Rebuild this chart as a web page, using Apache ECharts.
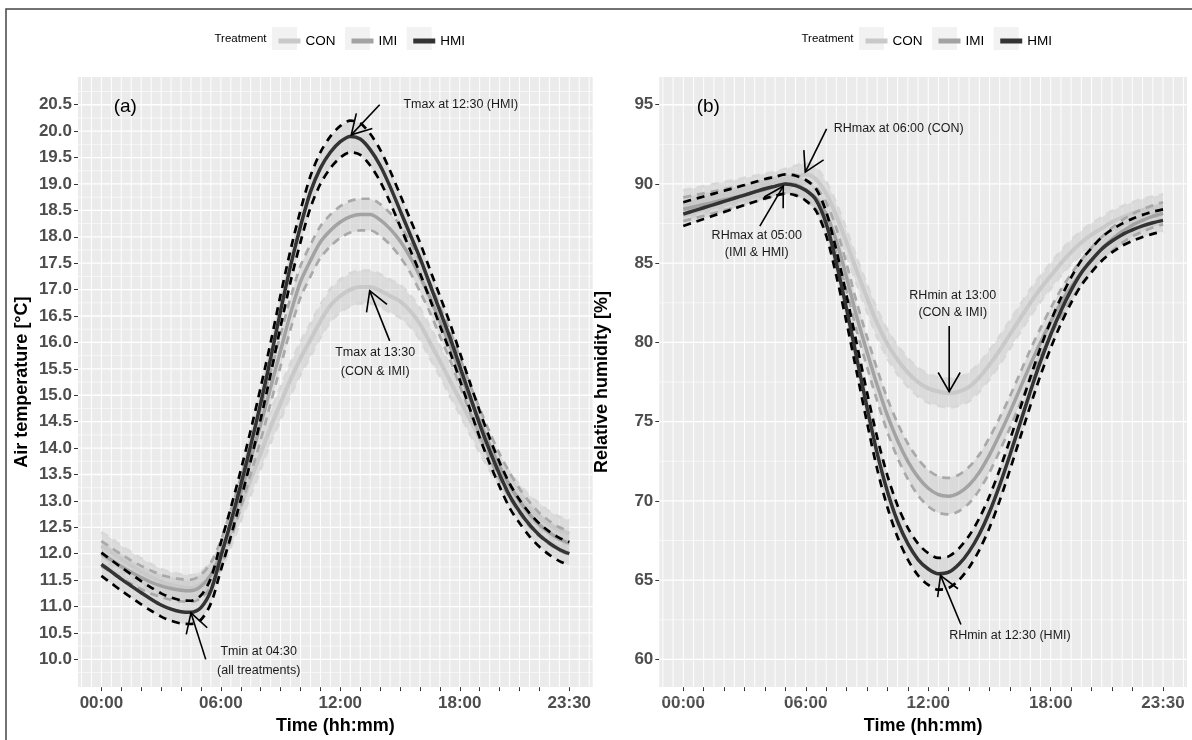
<!DOCTYPE html>
<html lang="en">
<head>
<meta charset="UTF-8">
<title>Air temperature and relative humidity by treatment</title>
<script src="https://cdn.jsdelivr.net/npm/echarts@6/dist/echarts.min.js"></script>
<style>
    html, body { margin: 0; padding: 0; background: #fff; }
    #main { width: 1192px; height: 740px; }
</style>
</head>
<body>
<div id="main"></div>
<script type="text/javascript">
// x values are half-hour slots: 0 = 00:00 ... 47 = 23:30
var treatments = ['CON', 'IMI', 'HMI'];

var xTickIdx = [0, 2, 4, 6, 8, 10, 12, 14, 16, 18, 20, 22, 24, 26, 28, 30, 32, 34, 36, 38, 40, 42, 44, 47];
var xLabelIdx = [0, 12, 24, 36, 47];
var xLabelText = ['00:00', '06:00', '12:00', '18:00', '23:30'];

var tempTicks = [10.0, 10.5, 11.0, 11.5, 12.0, 12.5, 13.0, 13.5, 14.0, 14.5, 15.0, 15.5,
    16.0, 16.5, 17.0, 17.5, 18.0, 18.5, 19.0, 19.5, 20.0, 20.5];
var rhTicks = [60, 65, 70, 75, 80, 85, 90, 95];

// (a) air temperature, mean per treatment
var tempCON = [12.15, 12.03, 11.90, 11.78, 11.66, 11.56, 11.47, 11.41, 11.37, 11.35, 11.42, 11.60, 11.95,
    12.40, 12.90, 13.40, 13.90, 14.40, 14.85, 15.30, 15.70, 16.05, 16.40, 16.70, 16.88, 17.00, 17.05, 17.05,
    16.98, 16.88, 16.78, 16.60, 16.35, 16.00, 15.65, 15.28, 14.92, 14.55, 14.18, 13.85, 13.55, 13.28, 13.05,
    12.85, 12.70, 12.55, 12.45, 12.38];
var tempIMI = [12.00, 11.88, 11.76, 11.65, 11.55, 11.46, 11.39, 11.34, 11.31, 11.30, 11.38, 11.60, 12.00,
    12.55, 13.15, 13.80, 14.45, 15.15, 15.85, 16.55, 17.15, 17.55, 17.90, 18.12, 18.28, 18.38, 18.42, 18.42,
    18.32, 18.15, 17.92, 17.62, 17.25, 16.85, 16.40, 15.95, 15.45, 14.95, 14.50, 14.05, 13.65, 13.30, 13.00,
    12.75, 12.55, 12.40, 12.28, 12.20];
var tempHMI = [11.80, 11.66, 11.52, 11.39, 11.26, 11.14, 11.03, 10.95, 10.90, 10.89, 10.98, 11.30, 11.95,
    12.60, 13.30, 14.05, 14.85, 15.70, 16.60, 17.45, 18.20, 18.85, 19.30, 19.60, 19.80, 19.90, 19.85, 19.65,
    19.35, 18.95, 18.50, 18.05, 17.60, 17.10, 16.60, 16.10, 15.55, 15.00, 14.45, 13.95, 13.50, 13.10, 12.80,
    12.55, 12.35, 12.20, 12.08, 12.00];
// half width of the confidence band
var ciTempCON = [0.26, 0.26, 0.25, 0.25, 0.25, 0.24, 0.24, 0.24, 0.24, 0.24, 0.24, 0.25, 0.26,
    0.27, 0.28, 0.29, 0.30, 0.30, 0.31, 0.31, 0.31, 0.31, 0.31, 0.31, 0.31, 0.31, 0.31, 0.31,
    0.31, 0.31, 0.31, 0.30, 0.30, 0.30, 0.29, 0.29, 0.28, 0.28, 0.27, 0.27, 0.26, 0.26, 0.26, 0.25, 0.25, 0.25, 0.25, 0.25];
var ciTempIMI = [0.24, 0.23, 0.23, 0.22, 0.22, 0.22, 0.21, 0.21, 0.21, 0.21, 0.22, 0.23, 0.25,
    0.27, 0.28, 0.29, 0.30, 0.30, 0.30, 0.30, 0.30, 0.30, 0.30, 0.30, 0.30, 0.30, 0.30, 0.30,
    0.30, 0.30, 0.30, 0.29, 0.29, 0.28, 0.28, 0.27, 0.27, 0.26, 0.25, 0.25, 0.24, 0.24, 0.23, 0.23, 0.22, 0.22, 0.22, 0.22];
var ciTempHMI = [0.22, 0.22, 0.22, 0.22, 0.22, 0.22, 0.22, 0.22, 0.22, 0.22, 0.23, 0.24, 0.26,
    0.27, 0.28, 0.29, 0.30, 0.30, 0.30, 0.30, 0.30, 0.30, 0.30, 0.30, 0.30, 0.30, 0.30, 0.30,
    0.30, 0.30, 0.30, 0.29, 0.29, 0.28, 0.28, 0.27, 0.26, 0.25, 0.25, 0.24, 0.23, 0.23, 0.22, 0.22, 0.22, 0.22, 0.22, 0.22];

// (b) relative humidity, mean per treatment
var rhCON = [88.70, 88.85, 89.00, 89.15, 89.30, 89.45, 89.60, 89.75, 89.90, 90.05, 90.25, 90.45, 90.60,
    90.30, 89.40, 88.00, 86.30, 84.50, 82.80, 81.20, 79.90, 78.90, 78.10, 77.50, 77.10, 76.90, 76.80, 76.90,
    77.20, 77.80, 78.60, 79.50, 80.50, 81.50, 82.50, 83.40, 84.20, 85.00, 85.70, 86.30, 86.80, 87.20, 87.60,
    87.90, 88.15, 88.35, 88.50, 88.65];
var rhIMI = [88.40, 88.55, 88.70, 88.85, 89.00, 89.15, 89.30, 89.50, 89.65, 89.85, 90.00, 89.95, 89.60,
    89.10, 88.10, 86.40, 84.10, 81.60, 79.40, 77.30, 75.40, 73.80, 72.50, 71.50, 70.80, 70.40, 70.30, 70.50,
    71.00, 71.80, 72.90, 74.20, 75.60, 77.10, 78.60, 80.00, 81.30, 82.50, 83.50, 84.40, 85.20, 85.90, 86.50,
    87.00, 87.40, 87.70, 87.95, 88.15];
var rhHMI = [88.10, 88.30, 88.50, 88.70, 88.90, 89.10, 89.30, 89.50, 89.70, 89.85, 90.00, 89.90, 89.60,
    89.00, 87.50, 85.00, 82.10, 79.00, 75.90, 73.00, 70.60, 68.70, 67.30, 66.30, 65.70, 65.40, 65.50, 66.00,
    66.80, 67.90, 69.30, 71.00, 72.90, 74.90, 76.90, 78.80, 80.50, 82.00, 83.30, 84.40, 85.20, 85.90, 86.40,
    86.80, 87.10, 87.35, 87.55, 87.70];
var ciRhCON = [0.90, 0.88, 0.86, 0.84, 0.82, 0.80, 0.78, 0.76, 0.74, 0.72, 0.70, 0.70, 0.70,
    0.72, 0.75, 0.78, 0.80, 0.82, 0.85, 0.88, 0.90, 0.90, 0.90, 0.90, 0.90, 0.90, 0.90, 0.90,
    0.90, 0.90, 0.90, 0.90, 0.88, 0.86, 0.84, 0.82, 0.80, 0.78, 0.76, 0.74, 0.72, 0.70, 0.70, 0.70, 0.70, 0.70, 0.70, 0.70];
var ciRhIMI = [0.75, 0.73, 0.71, 0.69, 0.67, 0.65, 0.63, 0.62, 0.61, 0.60, 0.60, 0.62, 0.65,
    0.70, 0.75, 0.80, 0.85, 0.90, 0.95, 1.00, 1.05, 1.10, 1.12, 1.15, 1.15, 1.15, 1.15, 1.15,
    1.15, 1.12, 1.10, 1.05, 1.00, 0.97, 0.94, 0.90, 0.87, 0.84, 0.82, 0.80, 0.78, 0.76, 0.74, 0.72, 0.70, 0.70, 0.70, 0.70];
var ciRhHMI = [0.75, 0.73, 0.71, 0.69, 0.67, 0.65, 0.63, 0.62, 0.61, 0.60, 0.60, 0.62, 0.65,
    0.70, 0.75, 0.80, 0.85, 0.90, 0.95, 1.00, 1.00, 1.00, 1.00, 1.00, 1.00, 1.00, 1.00, 1.00,
    1.00, 1.00, 1.00, 0.98, 0.95, 0.92, 0.90, 0.87, 0.85, 0.82, 0.80, 0.78, 0.76, 0.74, 0.72, 0.70, 0.70, 0.70, 0.70, 0.70];

// annotations: [slot, value] for text, [tailSlot, tailValue, tipSlot, tipValue] for arrows
var notesA = ['(a)', 'Tmax at 12:30 (HMI)', 'Tmax at 13:30', '(CON & IMI)', 'Tmin at 04:30', '(all treatments)'];
var notesAPos = [[2.4, 20.47], [36.1, 20.5], [27.5, 15.8], [27.5, 15.44], [15.8, 10.14], [15.8, 9.79]];
var arrowsA = [[27.95, 20.5, 25.1, 19.93], [28.96, 16.03, 26.95, 16.98], [10.48, 10.0, 9.0, 10.88]];
var notesB = ['(b)', 'RHmax at 06:00 (CON)', 'RHmax at 05:00', '(IMI & HMI)', 'RHmin at 13:00', '(CON & IMI)', 'RHmin at 12:30 (HMI)'];
var notesBPos = [[2.45, 94.9], [21.1, 93.47], [7.2, 86.77], [7.2, 85.66], [26.4, 82.99], [26.4, 81.88], [32.0, 61.48]];
var arrowsB = [[14.04, 93.47, 11.95, 90.75], [7.5, 87.34, 9.8, 89.86], [26.05, 81.04, 26.05, 76.9], [27.2, 62.2, 25.2, 65.3]];

var FONT = '"Liberation Sans", Arial, Helvetica, sans-serif';
var lineColors = ['#c9c9c9', '#a3a3a3', '#333333'];
var dashColors = ['#d8d8d8', '#a9a9a9', '#000000'];
var lineWidths = [4, 3.5, 3.5];

var panels = [
    {
        grid: {left: 78, top: 77, width: 514.7, height: 613},
        yMin: 9.475, yMax: 21.025, ticks: tempTicks, step: 0.5, digits: 1,
        yName: 'Air temperature [°C]', nameGap: 47,
        mean: [tempCON, tempIMI, tempHMI], ci: [ciTempCON, ciTempIMI, ciTempHMI],
        notes: notesA, notesPos: notesAPos, arrows: arrowsA,
        legendLeft: 273.5
    },
    {
        grid: {left: 659.3, top: 77, width: 527.7, height: 613},
        yMin: 58.25, yMax: 96.75, ticks: rhTicks, step: 5, digits: 0,
        yName: 'Relative humidity [%]', nameGap: 48,
        mean: [rhCON, rhIMI, rhHMI], ci: [ciRhCON, ciRhIMI, ciRhHMI],
        notes: notesB, notesPos: notesBPos, arrows: arrowsB,
        legendLeft: 860.5
    }
];

function toPairs(vals) {
    return vals.map(function (v, i) { return [i, v]; });
}
function offsetPairs(vals, ci, sign) {
    return vals.map(function (v, i) { return [i, +(v + sign * ci[i]).toFixed(3)]; });
}

var grids = [], xAxes = [], yAxes = [], series = [], legends = [], graphics = [];

graphics.push({
    type: 'rect', z: 100, silent: true,
    shape: {x: 6, y: 9, width: 1200, height: 800},
    style: {fill: 'none', stroke: '#444', lineWidth: 1.5}
});

panels.forEach(function (p, pi) {
    grids.push({
        left: p.grid.left, top: p.grid.top, width: p.grid.width, height: p.grid.height,
        show: true, backgroundColor: '#ebebeb', borderWidth: 0
    });
    xAxes.push({
        type: 'value', gridIndex: pi, min: -2.35, max: 49.35,
        axisLine: {show: false, onZero: false}, splitLine: {show: false},
        axisTick: {show: true, customValues: xTickIdx, length: 4, lineStyle: {color: '#333', width: 1}},
        axisLabel: {
            customValues: xLabelIdx, margin: 8,
            fontFamily: FONT, fontSize: 17, fontWeight: 'bold', color: '#4d4d4d',
            formatter: function (v) { return xLabelText[xLabelIdx.indexOf(v)]; }
        },
        name: 'Time (hh:mm)', nameLocation: 'middle', nameGap: 28,
        nameTextStyle: {fontFamily: FONT, fontSize: 18, fontWeight: 'bold', color: '#000'}
    });
    yAxes.push({
        type: 'value', gridIndex: pi, min: p.yMin, max: p.yMax,
        axisLine: {show: false, onZero: false}, splitLine: {show: false},
        axisTick: {show: true, customValues: p.ticks, length: 4, lineStyle: {color: '#333', width: 1}},
        axisLabel: {
            customValues: p.ticks, margin: 6,
            fontFamily: FONT, fontSize: 17, fontWeight: 'bold', color: '#4d4d4d',
            formatter: function (v) { return v.toFixed(p.digits); }
        },
        name: p.yName, nameLocation: 'middle', nameGap: p.nameGap,
        nameTextStyle: {fontFamily: FONT, fontSize: 18, fontWeight: 'bold', color: '#000'}
    });

    // white panel grid: horizontal major/minor and vertical lines every half hour
    var gridData = [];
    p.ticks.forEach(function (t) {
        gridData.push([0, t, 1.3, 0]);
        gridData.push([0, t - p.step / 2, 0.6, 0]);
    });
    gridData.push([0, p.ticks[p.ticks.length - 1] + p.step / 2, 0.6, 0]);
    for (var k = -2; k <= 49; k++) gridData.push([k, p.yMin, 1, 1]);
    series.push({
        type: 'custom', name: 'panel grid ' + pi, xAxisIndex: pi, yAxisIndex: pi,
        silent: true, z: 1, encode: {x: 0, y: 1}, data: gridData,
        renderItem: function (params, api) {
            var cs = params.coordSys;
            var w = api.value(2);
            if (api.value(3) === 0) {
                var y = api.coord([0, api.value(1)])[1];
                return {type: 'line', shape: {x1: cs.x, y1: y, x2: cs.x + cs.width, y2: y},
                    style: {stroke: '#ffffff', lineWidth: w}};
            }
            var x = api.coord([api.value(0), p.yMin])[0];
            return {type: 'line', shape: {x1: x, y1: cs.y, x2: x, y2: cs.y + cs.height},
                style: {stroke: '#ffffff', lineWidth: w}};
        }
    });

    // confidence ribbons, one polygon per treatment
    treatments.forEach(function (t, ti) {
        var mean = p.mean[ti], ci = p.ci[ti];
        series.push({
            type: 'custom', name: t + ' band', xAxisIndex: pi, yAxisIndex: pi,
            silent: true, z: 2, encode: {x: 0, y: [1, 2]},
            data: mean.map(function (v, i) { return [i, v - ci[i], v + ci[i]]; }),
            renderItem: function (params, api) {
                if (params.dataIndex !== 0) return {type: 'group', children: []};
                var pts = [], i;
                for (i = 0; i < mean.length; i++) pts.push(api.coord([i, mean[i] + ci[i]]));
                for (i = mean.length - 1; i >= 0; i--) pts.push(api.coord([i, mean[i] - ci[i]]));
                return {type: 'polygon', shape: {points: pts},
                    style: {fill: 'rgba(195,195,195,0.42)'}};
            }
        });
    });
    treatments.forEach(function (t, ti) {
        var mean = p.mean[ti], ci = p.ci[ti];
        series.push({
            type: 'line', name: t, xAxisIndex: pi, yAxisIndex: pi,
            data: toPairs(mean), smooth: 0.3, showSymbol: false, z: 3 + ti,
            color: lineColors[ti],
            lineStyle: {color: lineColors[ti], width: lineWidths[ti]}
        });
        [1, -1].forEach(function (sgn) {
            series.push({
                type: 'line', name: t + (sgn > 0 ? ' upper' : ' lower'), xAxisIndex: pi, yAxisIndex: pi,
                data: offsetPairs(mean, ci, sgn), smooth: 0.3, showSymbol: false, silent: true, z: 3 + ti,
                lineStyle: {color: dashColors[ti], width: 2.7, type: [8, 6]}
            });
        });
    });

    // arrows with open heads
    series.push({
        type: 'custom', name: 'arrows ' + pi, xAxisIndex: pi, yAxisIndex: pi,
        silent: true, z: 8, encode: {x: [0, 2], y: [1, 3]}, data: p.arrows,
        renderItem: function (params, api) {
            var tail = api.coord([api.value(0), api.value(1)]);
            var tip = api.coord([api.value(2), api.value(3)]);
            var ang = Math.atan2(tip[1] - tail[1], tip[0] - tail[0]);
            var L = 22, a = Math.PI / 6;
            var h1 = [tip[0] - L * Math.cos(ang - a), tip[1] - L * Math.sin(ang - a)];
            var h2 = [tip[0] - L * Math.cos(ang + a), tip[1] - L * Math.sin(ang + a)];
            var st = {stroke: '#000', lineWidth: 1.6, fill: null};
            return {type: 'group', children: [
                {type: 'line', shape: {x1: tail[0], y1: tail[1], x2: tip[0], y2: tip[1]}, style: st},
                {type: 'polyline', shape: {points: [h1, tip, h2]}, style: st}
            ]};
        }
    });
    // annotation texts
    series.push({
        type: 'custom', name: 'notes ' + pi, xAxisIndex: pi, yAxisIndex: pi,
        silent: true, z: 9, encode: {x: 0, y: 1}, data: p.notesPos,
        renderItem: function (params, api) {
            var pt = api.coord([api.value(0), api.value(1)]);
            var first = params.dataIndex === 0;
            return {type: 'text', x: pt[0], y: pt[1], style: {
                text: p.notes[params.dataIndex], align: 'center', verticalAlign: 'middle',
                fontFamily: FONT, fontSize: first ? 19 : 12.5, fill: first ? '#000' : '#1a1a1a'
            }};
        }
    });

    legends.push({
        data: treatments, left: p.legendLeft, top: 29, orient: 'horizontal',
        icon: 'rect', itemWidth: 22, itemHeight: 5, itemGap: 16,
        selectedMode: false,
        textStyle: {fontFamily: FONT, fontSize: 13.5, color: '#000'}
    });
    var keyOffsets = [0, 73, 134.7];
    keyOffsets.forEach(function (o) {
        graphics.push({
            type: 'rect', z: 0, silent: true,
            shape: {x: p.legendLeft - 1.5 + o, y: 27, width: 25, height: 23},
            style: {fill: '#f2f2f2'}
        });
    });
    graphics.push({
        type: 'text', silent: true, x: p.legendLeft - 7, y: 38.5,
        style: {text: 'Treatment', align: 'right', verticalAlign: 'middle',
            fontFamily: FONT, fontSize: 11.5, fill: '#000'}
    });
});

var chart = echarts.init(document.getElementById('main'));
chart.setOption({
    backgroundColor: '#ffffff',
    animation: false,
    grid: grids,
    xAxis: xAxes,
    yAxis: yAxes,
    legend: legends,
    graphic: graphics,
    series: series
});
</script>
</body>
</html>
